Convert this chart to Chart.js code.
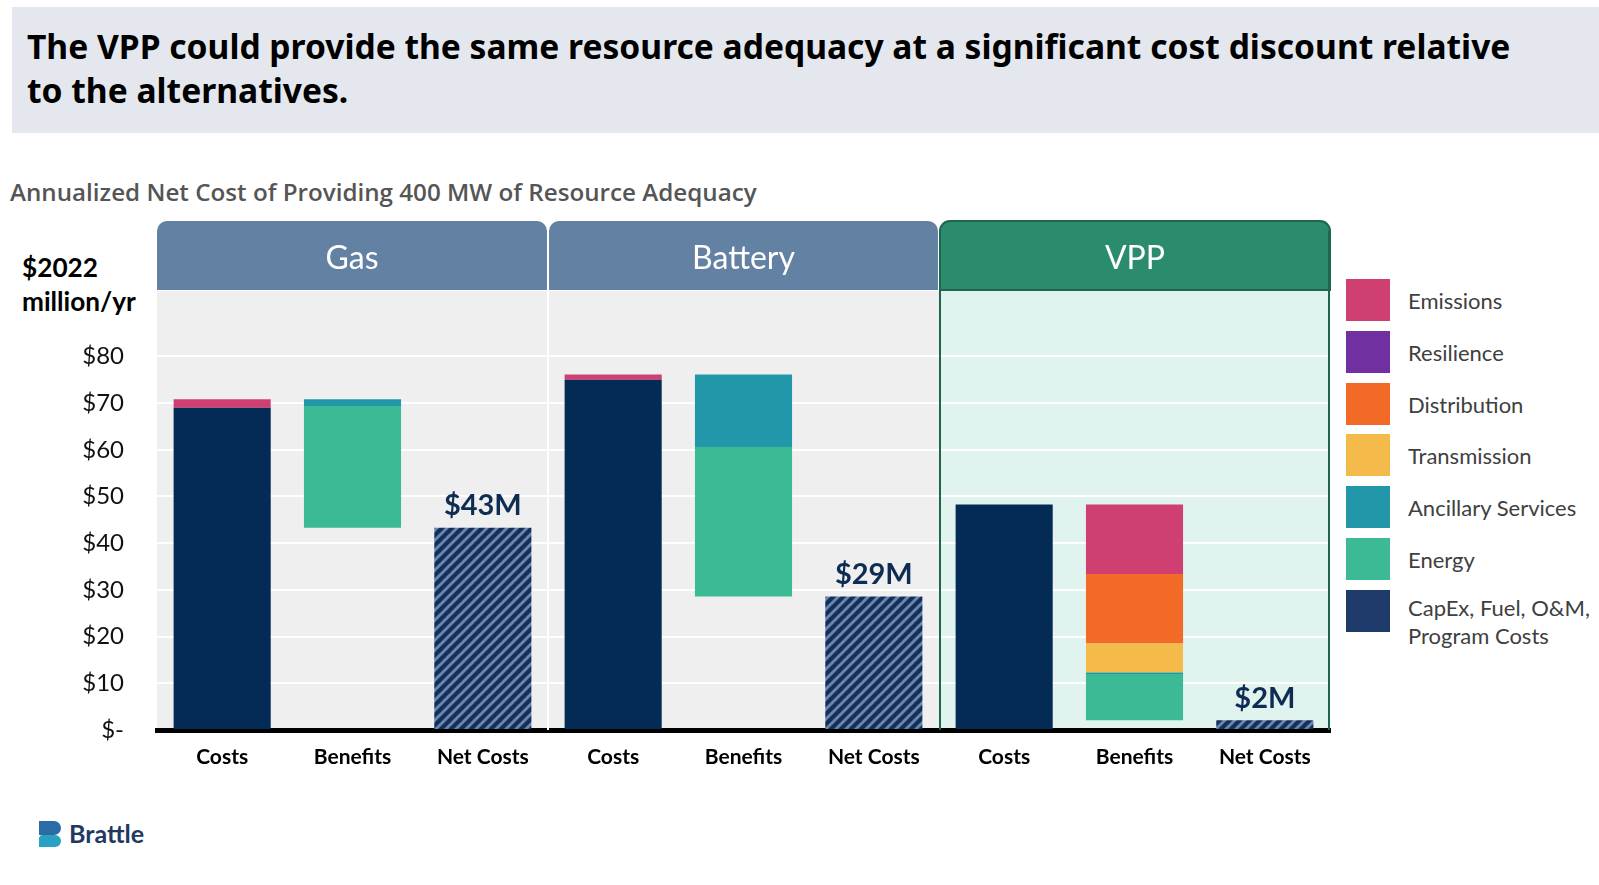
<!DOCTYPE html>
<html lang="en">
<head>
<meta charset="UTF-8">
<title>VPP Resource Adequacy Cost</title>
<script src="https://cdn.jsdelivr.net/npm/chart.js"></script>
<style>
  html, body { margin: 0; padding: 0; background: #fff; }
  body { width: 1599px; height: 885px; position: relative; overflow: hidden; font-family: Lato, "Open Sans", sans-serif; }
  #titlebox { position: absolute; left: 12px; top: 7px; width: 1587px; height: 126px; background: #e4e8ee; }
  #title { position: absolute; left: 27px; top: 24px; font: bold 33.6px/44px "Noto Sans", "Open Sans", sans-serif; color: #000; }
  #subtitle { position: absolute; left: 10px; top: 177px; font: 600 24.2px/30px "Open Sans", sans-serif; color: #555; }
  #ytitle { position: absolute; left: 22px; top: 250px; font: bold 26.2px/34px Lato, sans-serif; color: #000; }
  #wrap { position: absolute; left: 0; top: 215px; width: 1345px; height: 585px; }
  #legend { position: absolute; left: 1346px; top: 279px; }
  .item { position: absolute; left: 0; height: 42px; white-space: nowrap; }
  .box { position: absolute; left: 0; top: 0; width: 44px; height: 42px; }
  .lbl { position: absolute; left: 62px; top: 8px; font: 22px/28px Lato, sans-serif; color: #404040; white-space: pre; }
  .lbl.two { top: 4px; }
  #logo { position: absolute; left: 39px; top: 821px; }
  #logo .b1 { position: absolute; left: 0; top: 0; width: 22px; height: 14px; background: #2b6ca6; border-radius: 0 7px 7px 0; }
  #logo .b2 { position: absolute; left: 0; top: 14px; width: 22px; height: 12px; background: #27a2c4; border-radius: 4px 6px 6px 0; }
  #logo .t { position: absolute; left: 30px; top: -3px; font: bold 25px/30px Lato, sans-serif; color: #1f3864; }
</style>
</head>
<body>
<div id="titlebox"></div>
<div id="title">The VPP could provide the same resource adequacy at a significant cost discount relative<br>to the alternatives.</div>
<div id="subtitle">Annualized Net Cost of Providing 400 MW of Resource Adequacy</div>
<div id="ytitle">$2022<br>million/yr</div>
<div id="wrap"><canvas id="chart"></canvas></div>
<div id="legend"></div>
<div id="logo"><div class="b1"></div><div class="b2"></div><div class="t">Brattle</div></div>

<script>
// groups and columns
const groups = ["Gas", "Battery", "VPP"];
const columns = ["Costs", "Benefits", "Net Costs"];

// costs ($2022 million/yr), per group
const costCapex = [69.0, 75.0, 48.3];
const costEmissions = [1.8, 1.1, 0];

// benefits, per group
const benEnergy = [26.1, 32.0, 9.9];
const benAncillary = [1.4, 15.5, 0.3];
const benTransmission = [0, 0, 6.2];
const benDistribution = [0, 0, 14.9];
const benResilience = [0, 0, 0];
const benEmissions = [0, 0, 14.9];

// net costs, per group
const netCosts = [43.3, 28.6, 2.1];
const netLabels = ["$43M", "$29M", "$2M"];

const yTicks = [0, 10, 20, 30, 40, 50, 60, 70, 80];

const colors = {
  emissions: "#cf3f71",
  resilience: "#7030a0",
  distribution: "#f26a25",
  transmission: "#f4bb4a",
  ancillary: "#2397aa",
  energy: "#3bba95",
  capex: "#032b56"
};

const legendItems = [
  ["Emissions", colors.emissions],
  ["Resilience", colors.resilience],
  ["Distribution", colors.distribution],
  ["Transmission", colors.transmission],
  ["Ancillary Services", colors.ancillary],
  ["Energy", colors.energy],
  ["CapEx, Fuel, O&M,\nProgram Costs", "#1d3a6b"]
];

// 9 x-axis slots: group x column
const labels = [];
groups.forEach(() => columns.forEach(c => labels.push(c)));

// put a per-group array into one column of the 9 slots
function col(arr, c) {
  const out = [];
  arr.forEach(v => {
    for (let k = 0; k < 3; k++) out.push(k === c && v ? v : null);
  });
  return out;
}

// hatch for the net cost bars
function hatch() {
  const n = 10;
  const c = document.createElement("canvas");
  c.width = n; c.height = n;
  const g = c.getContext("2d");
  g.fillStyle = "#14305a";
  g.fillRect(0, 0, n, n);
  g.strokeStyle = "#6a86ad";
  g.lineWidth = 3;
  g.beginPath();
  g.moveTo(-3, 3); g.lineTo(3, -3);
  g.moveTo(0, n); g.lineTo(n, 0);
  g.moveTo(n - 3, n + 3); g.lineTo(n + 3, n - 3);
  g.stroke();
  return g.createPattern(c, "repeat");
}

const ctx = document.getElementById("chart").getContext("2d");

const datasets = [
  { label: "CapEx", data: col(costCapex, 0), backgroundColor: colors.capex },
  { label: "base", data: col(netCosts, 1), backgroundColor: "rgba(0,0,0,0)" },
  { label: "Energy", data: col(benEnergy, 1), backgroundColor: colors.energy },
  { label: "Ancillary Services", data: col(benAncillary, 1), backgroundColor: colors.ancillary },
  { label: "Transmission", data: col(benTransmission, 1), backgroundColor: colors.transmission },
  { label: "Distribution", data: col(benDistribution, 1), backgroundColor: colors.distribution },
  { label: "Resilience", data: col(benResilience, 1), backgroundColor: colors.resilience },
  { label: "Emissions", data: col(benEmissions, 1).map((v, i) => v !== null ? v : col(costEmissions, 0)[i]), backgroundColor: colors.emissions },
  { label: "Net", data: col(netCosts, 2), backgroundColor: hatch() }
];

// panels, tabs and borders behind the bars
const panels = {
  id: "panels",
  beforeDraw(chart) {
    const a = chart.chartArea, c = chart.ctx;
    const w = (a.right - a.left) / groups.length;
    c.save();
    groups.forEach((name, g) => {
      const x0 = a.left + g * w, x1 = x0 + w;
      const vpp = name === "VPP";
      c.fillStyle = vpp ? "#e1f3ef" : "#efefef";
      c.fillRect(x0, a.top, w, a.bottom - a.top);
      // tab
      const tx0 = x0 + (g ? 1 : 0), tx1 = x1 - (g < groups.length - 1 ? 1 : 0);
      const ty0 = a.top - 70, ty1 = a.top - 1;
      c.beginPath();
      c.roundRect(tx0, ty0, tx1 - tx0, ty1 - ty0, [10, 10, 0, 0]);
      c.fillStyle = vpp ? "#2b8b6e" : "#6381a2";
      c.fill();
      if (vpp) {
        c.strokeStyle = "#1e6650";
        c.lineWidth = 2;
        c.stroke();
      }
      c.fillStyle = "#fff";
      c.font = "32px Lato, sans-serif";
      c.textAlign = "center";
      c.textBaseline = "middle";
      c.fillText(name, (tx0 + tx1) / 2, a.top - 32);
    });
    c.restore();
  },
  beforeDatasetsDraw(chart) {
    const a = chart.chartArea, c = chart.ctx;
    const w = (a.right - a.left) / groups.length;
    c.save();
    // white split between Gas and Battery
    c.fillStyle = "#fff";
    c.fillRect(a.left + w - 1, a.top - 70, 2, a.bottom - a.top + 70);
    // VPP frame
    const x0 = a.left + 2 * w + 1, x1 = a.right - 1;
    c.strokeStyle = "#1e6650";
    c.lineWidth = 2;
    c.beginPath();
    c.moveTo(x0, a.top - 60); c.lineTo(x0, a.bottom);
    c.moveTo(x1, a.top - 60); c.lineTo(x1, a.bottom);
    c.moveTo(x0, a.top - 1); c.lineTo(x1, a.top - 1);
    c.stroke();
    c.restore();
  },
  afterDatasetsDraw(chart) {
    const c = chart.ctx;
    const meta = chart.getDatasetMeta(datasets.length - 1);
    c.save();
    c.fillStyle = "#0f2c52";
    c.font = "bold 29px Lato, sans-serif";
    c.textAlign = "center";
    c.textBaseline = "middle";
    let n = 0;
    meta.data.forEach((el, i) => {
      if (datasets[datasets.length - 1].data[i] === null) return;
      c.fillText(netLabels[n++], el.x, el.y - 22);
    });
    c.restore();
  }
};

new Chart(ctx, {
  type: "bar",
  data: { labels: labels, datasets: datasets },
  options: {
    responsive: true,
    maintainAspectRatio: false,
    animation: false,
    layout: { padding: { top: 76, right: 15, left: 0, bottom: 0 } },
    datasets: { bar: { categoryPercentage: 1, barPercentage: 0.745, borderWidth: 0 } },
    plugins: { legend: { display: false }, tooltip: { enabled: false } },
    scales: {
      x: {
        stacked: true,
        grid: { display: false },
        border: { display: true, color: "#000", width: 5 },
        ticks: { color: "#000", font: { family: "Lato", weight: "bold", size: 21 }, padding: 7, maxRotation: 0, autoSkip: false },
        afterFit(s) { s.height = 70; }
      },
      y: {
        stacked: true,
        min: 0,
        max: 94,
        grid: { color: "#fff", lineWidth: 2, drawTicks: false },
        border: { display: false },
        afterBuildTicks(s) { s.ticks = yTicks.map(v => ({ value: v })); },
        ticks: {
          color: "#111",
          padding: 33,
          font: { family: "Lato", size: 24 },
          callback: v => v === 0 ? "$-" : "$" + v
        },
        afterFit(s) { s.width = 157; }
      }
    }
  },
  plugins: [panels]
});

// legend
const leg = document.getElementById("legend");
legendItems.forEach(([name, color], i) => {
  const d = document.createElement("div");
  d.className = "item";
  d.style.top = (i * 51.8) + "px";
  d.innerHTML = '<div class="box" style="background:' + color + '"></div>';
  const t = document.createElement("div");
  t.className = name.includes("\n") ? "lbl two" : "lbl";
  t.textContent = name;
  d.appendChild(t);
  leg.appendChild(d);
});
</script>
</body>
</html>
